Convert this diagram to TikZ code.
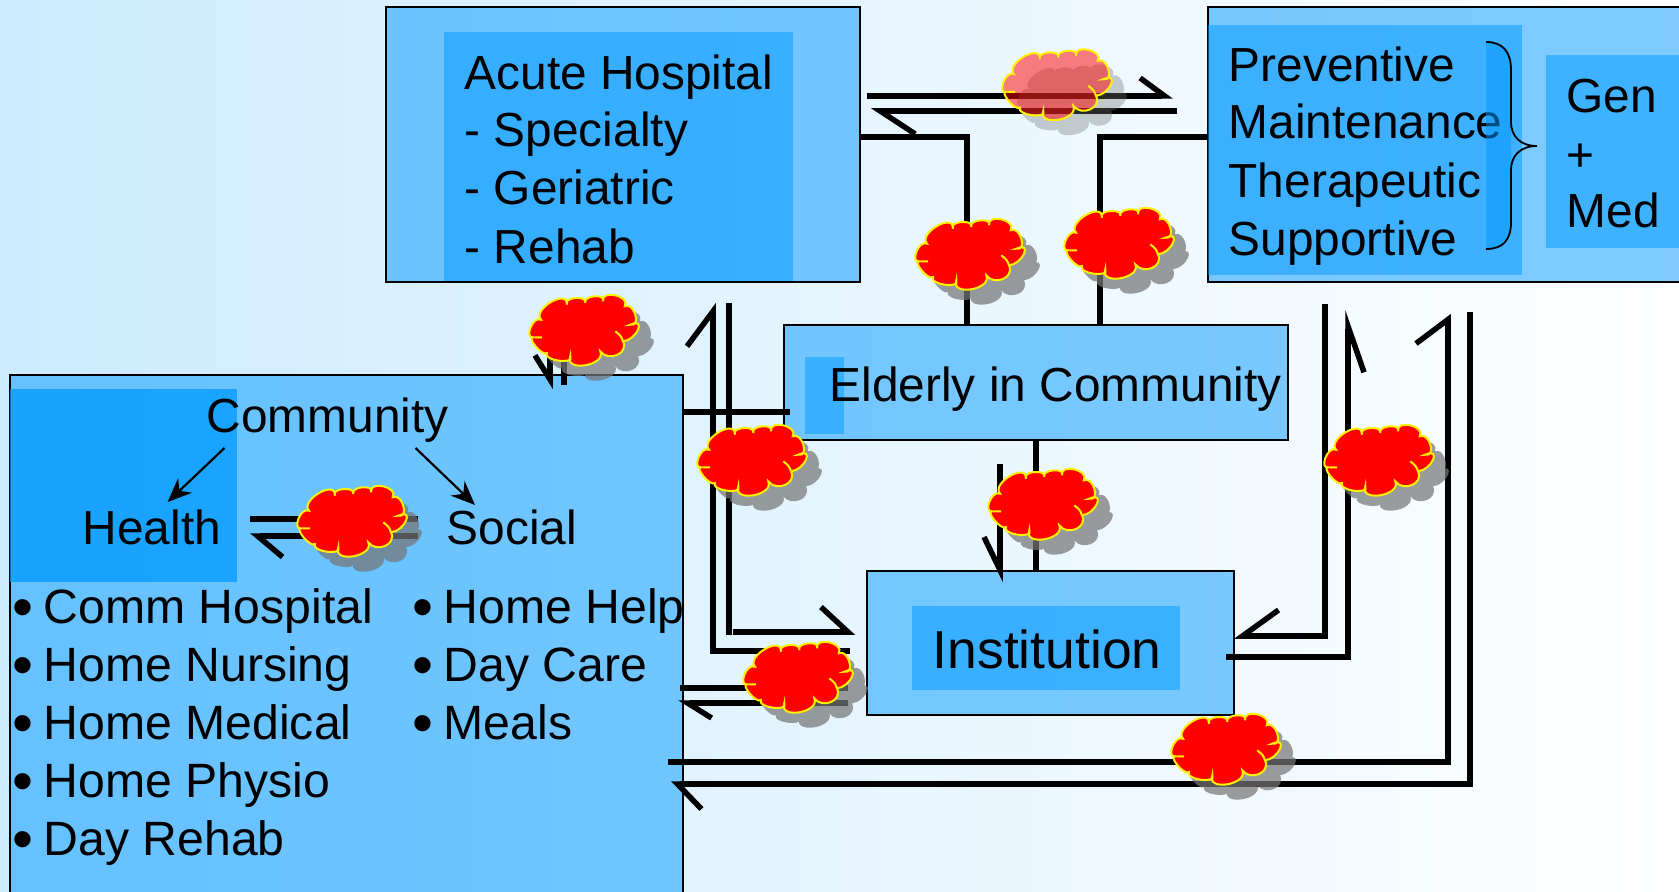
\documentclass[tikz,border=0pt]{standalone}
\usepackage{fontspec}
\setmainfont{Liberation Sans}
\usetikzlibrary{arrows.meta}
\definecolor{paleblue}{RGB}{204,235,255}
\definecolor{panelblue}{RGB}{0,153,255}
\definecolor{cloudshade}{RGB}{118,118,118}
\newcommand{\cloudpath}{(-43,-10.3) .. controls (-51.5,-14.5) and (-60.8,10.2) .. (-49.7,7.3)
  .. controls (-59.4,5.3) and (-41.6,27.3) .. (-37,23)
  .. controls (-41.6,30.4) and (-9,35) .. (-13.7,26.3)
  .. controls (-19.7,42.6) and (22.3,35.6) .. (16.3,21.3)
  .. controls (24,32) and (45,24) .. (39,11.3)
  .. controls (52.7,10.2) and (62.9,-13) .. (46.3,-5.3)
  .. controls (57.8,-2.7) and (50,-28.5) .. (40.7,-23.7)
  .. controls (47,-34) and (16.6,-41) .. (19,-28.7)
  .. controls (22.7,-36.8) and (-2,-34.5) .. (1.3,-27)
  .. controls (3.8,-35.1) and (-21.8,-32.8) .. (-17,-25.3)
  .. controls (-15.8,-41.9) and (-52.2,-20.9) .. (-43,-10.3) -- cycle}
\newcommand{\bulletmark}{\llap{\smash{\raisebox{-1.3pt}{\fontsize{17}{16}\selectfont\textbullet}}\hspace{.1cm}}}
\tikzset{
  panel/.style={draw=black,line width=1.4pt/2,fill=panelblue,fill opacity=.5,inner sep=0pt,outer sep=0pt},
  inset/.style={fill=panelblue,fill opacity=.5,inner sep=0pt,outer sep=0pt},
  boxtext/.style={font=\fontsize{13.6}{16}\selectfont,inner sep=0pt,anchor=base west},
  listtext/.style={boxtext,font=\fontsize{13.7}{16}\selectfont},
  flow/.style={line width=.055cm},
  barb/.style 2 args={flow,-{Straight Barb[harpoon,length=#1,width=#2]}},
  barbr/.style 2 args={flow,-{Straight Barb[harpoon,swap,length=#1,width=#2]}},
  pics/stormcloud/.style 2 args={code={
    \path[fill=cloudshade,fill opacity=#1,shift={(15,15)}] \cloudpath;
    \path[fill=red,fill opacity=#2,draw=yellow,line width=.02cm] \cloudpath;
    \draw[yellow,line width=.02cm] (-49.7,7.3) -- (-42,7.5);
    \draw[yellow,line width=.02cm] (39,11.3) .. controls (37,6) .. (31.3,1.3);
  }},
}
\begin{document}
\begin{tikzpicture}[x=.01cm,y=-.01cm,>={Stealth[length=.24cm,width=.2cm]}]
   \useasboundingbox (0,0) rectangle (1679,891);
   \clip (0,0) rectangle (1679,891);
   \shade[left color=paleblue,right color=white] (0,0) rectangle (1679,891);

   % boxes
   \node[panel,minimum width=4.74cm,minimum height=2.75cm] (acute) at (623,144.5) {};
   \node[panel,minimum width=4.82cm,minimum height=2.75cm] (care) at (1449,144.5) {};
   \node[panel,minimum width=5.04cm,minimum height=1.15cm] (elderly) at (1036,382.5) {};
   \node[panel,minimum width=3.67cm,minimum height=1.44cm] (institution) at (1050.5,643) {};
   \node[panel,minimum width=6.73cm,minimum height=5.30cm] (community) at (346.5,640) {};
   \node[inset,minimum width=3.49cm,minimum height=2.49cm] (acuteinner) at (618.5,156.5) {};
   \node[inset,minimum width=3.14cm,minimum height=2.50cm] (careinner) at (1365,150) {};
   \node[inset,minimum width=1.44cm,minimum height=1.93cm] (geninner) at (1618,151.5) {};
   \node[inset,minimum width=.39cm,minimum height=.77cm] (elderlyinner) at (824.5,395.5) {};
   \node[inset,minimum width=2.675cm,minimum height=.84cm] (institutioninner) at (1046,648) {};
   \node[inset,fill opacity=.75,minimum width=2.27cm,minimum height=1.93cm] (healthinner) at (123.5,485.5) {};

   % free line ends
   \foreach \nm/\cx/\cy in {topa/867/96,topb/1173/96,reta/1177/111,retb/871/111,
     kneea/967/137,kneeb/1100/137,downa/1000/464,downb/1000/582,
     lefta/850/651,leftb/713/651,leftc/713/303,stuba/729/303,stubb/729/635,
     intoa/733/632,intob/855/632,insta/848/688,instb/680/688,instc/848/703,instd/678/703,
     longa/668/762,longb/1448/762,longc/1448/314,backa/1470/312,backb/1470/784,backc/671/784,
     righta/1325/304,rightb/1325/636,rightc/1234/636,outa/1226/657,outb/1348/657,outc/1348/310,
     linka/790/412,upa/550/340,upb/550/389,upc/564/340,upd/564/385,
     socia/418/519,socib/250/519,socic/418/536,socid/250/536,
     splita/224.5/448,splitb/167.6/502,splitc/415.5/448,splitd/475/505}
     \coordinate (\nm) at (\cx,\cy);

   % connectors
   \draw[barb={.245cm}{.36cm}] (topa) -- (topb);
   \draw[barb={.35cm}{.46cm}] (reta) -- (retb);
   \draw[flow] (kneea -| acute.east) -- (kneea) -- (kneea |- elderly.north);
   \draw[flow] (kneeb -| care.west) -- (kneeb) -- (kneeb |- elderly.north);
   \draw[flow] (elderly.south) -- (elderly.south |- institution.north);
   \draw[barbr={.33cm}{.32cm}] (downa) -- (downb);
   \draw[barb={.35cm}{.52cm}] (lefta) -- (leftb) -- (leftc);
   \draw[flow] (stuba) -- (stubb);
   \draw[barb={.27cm}{.50cm}] (intoa) -- (intob);
   \draw[flow] (insta) -- (instb);
   \draw[barb={.24cm}{.30cm}] (instc) -- (instd);
   \draw[barb={.24cm}{.64cm}] (longa) -- (longb) -- (longc);
   \draw[barb={.24cm}{.50cm}] (backa) -- (backb) -- (backc);
   \draw[barbr={.36cm}{.52cm}] (righta) -- (rightb) -- (rightc);
   \draw[barbr={.46cm}{.32cm}] (outa) -- (outb) -- (outc);
   \draw[flow] (community.east |- linka) -- (linka);
   \draw[barbr={.24cm}{.30cm}] (upa) -- (upb);
   \draw[flow] (upc) -- (upd);
   \draw[flow] (socia) -- (socib);
   \draw[barb={.25cm}{.42cm}] (socic) -- (socid);
   \draw[->,line width=.022cm] (splita) -- (splitb);
   \draw[->,line width=.022cm] (splitc) -- (splitd);

   % labels
   \foreach \n/\cy/\txt in {1/90/Acute Hospital,2/147/- Specialty,3/205/- Geriatric,4/263/- Rehab}
     \node[boxtext] (acute\n) at (464,\cy) {\txt};
   \foreach \n/\cy/\txt in {1/82/Preventive,2/139/Maintenance,3/198/Therapeutic,4/255/Supportive}
     \node[boxtext] (care\n) at (1228,\cy) {\txt};
   \foreach \n/\cy/\txt in {1/113/Gen,2/172/+,3/228/Med}
     \node[boxtext] (gen\n) at (1566,\cy) {\txt};
   \node[boxtext] (elderlytext) at (829,401) {Elderly in Community};
   \node[boxtext,font=\fontsize{15.2}{17}\selectfont] (institutiontext) at (932,668) {Institution};
   \node[boxtext] (communitytext) at (206,432) {Community};
   \node[boxtext] (healthtext) at (82,544) {Health};
   \node[boxtext] (socialtext) at (446,544) {Social};
   \foreach \n/\cy/\txt in {1/623/Comm Hospital,2/681/Home Nursing,3/739/Home Medical,4/797/Home Physio,5/855/Day Rehab}
     \node[listtext] (health\n) at (43,\cy) {\bulletmark\txt};
   \foreach \n/\cy/\txt in {1/623/Home Help,2/681/Day Care,3/739/Meals}
     \node[listtext] (social\n) at (443,\cy) {\bulletmark\txt};

   % brace
   \path[fill=panelblue,fill opacity=.5] (1486,42) .. controls (1503,42) and (1511,52) .. (1511,70) -- (1511,222)
     .. controls (1511,240) and (1503,249) .. (1486,249) -- cycle;
   \draw[line width=.018cm] (1486,42) .. controls (1503,42) and (1511,52) .. (1511,70) -- (1511,122)
     .. controls (1511,136) and (1520,146) .. (1537,146) .. controls (1520,146) and (1511,156) .. (1511,170) -- (1511,222)
     .. controls (1511,240) and (1503,249) .. (1486,249);

   % clouds
   \pic at (1057,84.5) {stormcloud={.36}{.5}};
   \foreach \cx/\cy in {970/254,1119/243,584/330,352/521,752/460,1043/504,1379/460,798/677,1226/749}
     \pic at (\cx,\cy) {stormcloud={.72}{1}};
\end{tikzpicture}
\end{document}
